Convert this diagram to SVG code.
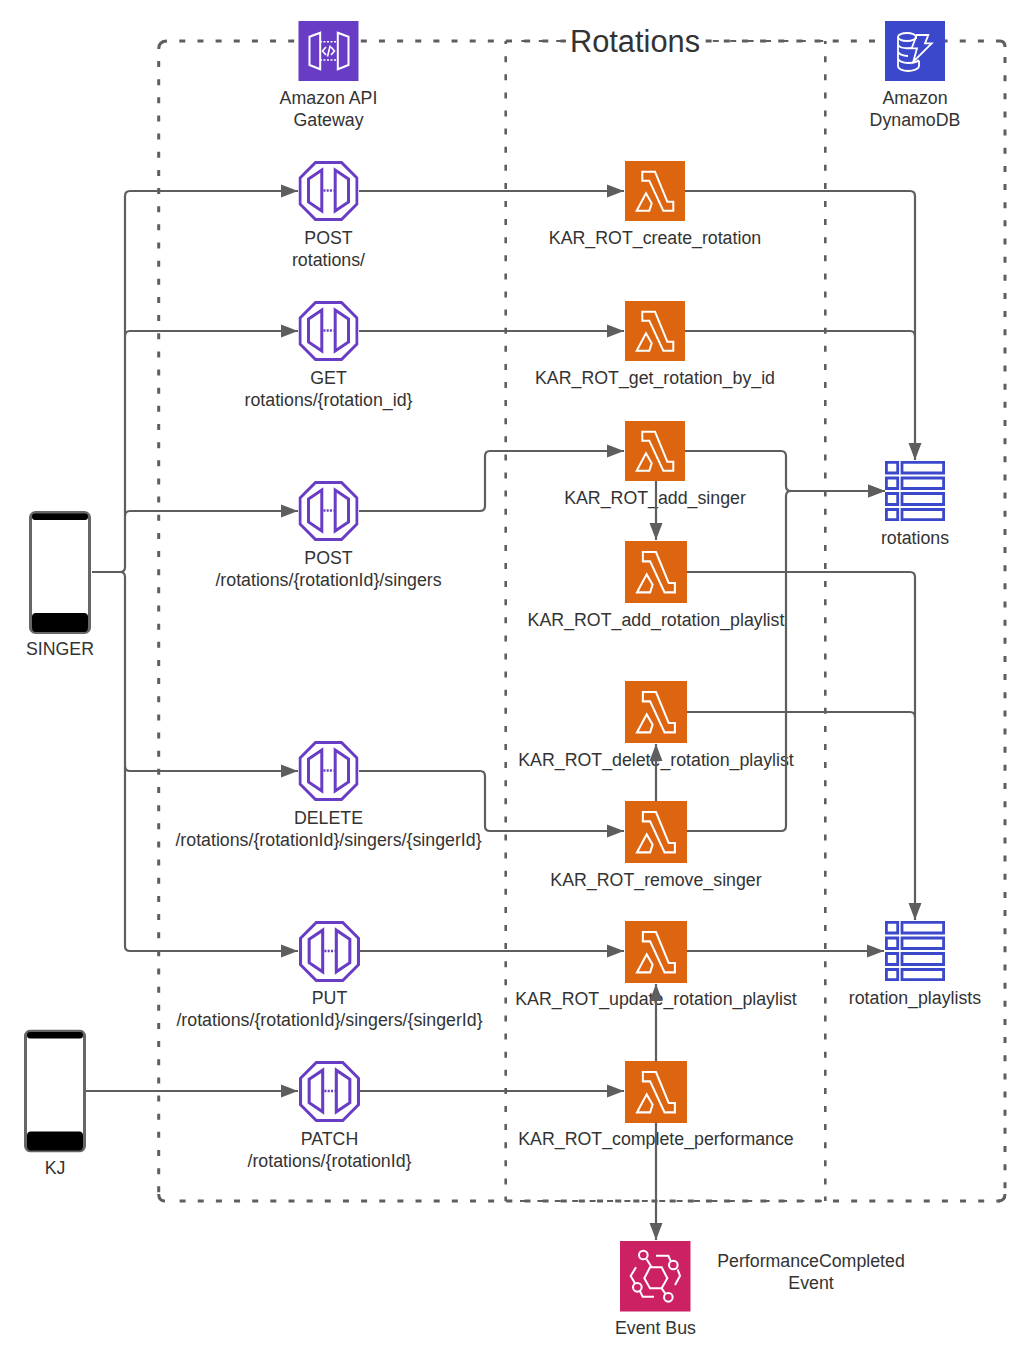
<svg xmlns="http://www.w3.org/2000/svg" width="1030" height="1371" viewBox="0 0 1030 1371">
<style>
text{font-family:"Liberation Sans",Arial,sans-serif;font-size:17.77px;fill:#333;text-anchor:middle}
.title{font-size:30.8px}
.frame{fill:none;stroke:#5e5e5e;stroke-width:3;stroke-dasharray:6 12.15}
.corner{fill:none;stroke:#5e5e5e;stroke-width:3}
.inner{fill:none;stroke:#5e5e5e;stroke-width:2.6;stroke-dasharray:6 12.1;stroke-dashoffset:1.5}
.innerh{fill:none;stroke:#5e5e5e;stroke-width:2;stroke-dasharray:6 11.4}
.c{fill:none;stroke:#5e5e5e;stroke-width:2.2;marker-end:url(#arrow)}
.n{fill:none;stroke:#5e5e5e;stroke-width:2.2}
.w{fill:none;stroke:#fff;stroke-width:2;stroke-linejoin:miter}
.p{fill:none;stroke:#693cc5;stroke-width:3}
.t{fill:#fff;stroke:#3b48cc;stroke-width:2.8}
</style>
<defs>
<marker id="arrow" markerUnits="userSpaceOnUse" markerWidth="18" markerHeight="14" refX="17" refY="7" orient="auto"><path d="M0 0.5L17 7L0 13.500z" fill="#5e5e5e"/></marker>
<symbol id="lambda" viewBox="0 0 60 60">
<rect width="60" height="60" fill="#dd6510"/>
<path class="w" d="M17.300 10.700H30L42.300 40.700H48.300V49.700H38.300L24.300 19.700H17.300zM11.700 49.700L21 32.300L26.700 42.300L24.300 49.700z"/>
</symbol>
<symbol id="api" viewBox="0 0 60 60">
<path class="p" d="M17 1.500H43L58.500 17V43L43 58.500H17L1.500 43V17z"/>
<path class="p" d="M10 18L23.300 9V50L10 41zM50 18L36.700 9V50L50 41z"/>
<path d="M25 29.500H35" fill="none" stroke="#693cc5" stroke-width="2.600" stroke-dasharray="2 1.200"/>
</symbol>
<symbol id="table" viewBox="0 0 60 60">
<path class="t" d="M1.400 1.400H12.700V12H1.400zM17 1.400H58.600V12H17zM1.400 17H12.700V27.500H1.400zM17 17H58.600V27.500H17zM1.400 32.500H12.700V43.500H1.400zM17 32.500H58.600V43.500H17zM1.400 48.500H12.700V58.600H1.400zM17 48.500H58.600V58.600H17z"/>
</symbol>
<symbol id="phone" viewBox="0 0 62 123">
<rect x="1.500" y="1.500" width="59" height="120" rx="5" fill="#fff" stroke="#666" stroke-width="3"/>
<rect x="3" y="2.500" width="56" height="6.500" rx="3" fill="#000"/>
<rect x="3" y="102" width="56" height="19" rx="4" fill="#000"/>
</symbol>
</defs>
<rect width="1030" height="1371" fill="#fff"/>
<g id="frames">
<path class="frame" d="M179.300 41H1000"/>
<path class="frame" d="M158.700 61V1196"/>
<path class="frame" d="M179.600 1201H1000"/>
<path class="frame" d="M1005 57V1196"/>
<path class="corner" d="M158.700 49Q158.700 41 167 41M1000 41Q1005 41 1005 47M1005 1194Q1005 1201 998 1201M158.700 1194Q158.700 1201 165 1201"/>
<path class="inner" d="M505.700 1201V41"/>
<path class="inner" d="M825.300 1201V41"/>
<path class="innerh" d="M505.700 41H825.300" stroke-dashoffset="1.700"/>
<path class="innerh" d="M505.700 1201H825.300" stroke-dashoffset="3.100"/>
</g>
<g id="title">
<rect x="566" y="22" width="139" height="38" fill="#fff"/>
<text class="title" x="635" y="51.500">Rotations</text>
</g>
<g id="gateway">
<rect x="298.500" y="21" width="60" height="60" fill="#693cc5"/>
<path class="w" d="M309.500 36.700L320.200 32.700V69.300L309.500 65zM348.500 36.700L337.800 32.700V69.300L348.500 65z"/>
<path d="M320 41.700H338M320 60H338" fill="none" stroke="#fff" stroke-width="1.500" stroke-dasharray="2 1.500"/>
<path d="M326 47L322.500 51L326 55M331 47L334.500 51L331 55M330.200 45.500L327.500 56.500" fill="none" stroke="#fff" stroke-width="1.600"/>
<text x="328.500" y="104">Amazon API</text><text x="328.500" y="126">Gateway</text>
</g>
<g id="dynamodb">
<rect x="885" y="21" width="60" height="60" fill="#3b48cc"/>
<g fill="none" stroke="#fff" stroke-width="1.800">
<ellipse cx="907" cy="37" rx="9" ry="4"/>
<path d="M898 37V66C898 69 903 71 908 71C913 71 919 69 919 66V61M898 44C898 47 903 49 911 48M898 51C898 54 903 56 908 56M898 58C898 61 903 63 908 63C913 63 917 62 919 60M916 37V39"/>
<path d="M916.700 35H928.300L925 43.300H931.700L913.300 61.700L917 48.300H911.700z"/>
</g>
<text x="915" y="104">Amazon</text><text x="915" y="126">DynamoDB</text>
</g>
<g id="post-rotations"><use href="#api" x="298.500" y="161" width="60" height="60"/><text x="328.500" y="244">POST</text><text x="328.500" y="266">rotations/</text></g>
<g id="get-rotation"><use href="#api" x="298.500" y="301" width="60" height="60"/><text x="328.500" y="384">GET</text><text x="328.500" y="406">rotations/{rotation_id}</text></g>
<g id="post-singers"><use href="#api" x="298.500" y="481" width="60" height="60"/><text x="328.500" y="564">POST</text><text x="328.500" y="586">/rotations/{rotationId}/singers</text></g>
<g id="delete-singer"><use href="#api" x="298.500" y="741" width="60" height="60"/><text x="328.500" y="824">DELETE</text><text x="328.500" y="846">/rotations/{rotationId}/singers/{singerId}</text></g>
<g id="put-singer"><use href="#api" x="299" y="921" width="61" height="61"/><text x="329.500" y="1004">PUT</text><text x="329.500" y="1026">/rotations/{rotationId}/singers/{singerId}</text></g>
<g id="patch-rotation"><use href="#api" x="299" y="1061" width="61" height="61"/><text x="329.500" y="1145">PATCH</text><text x="329.500" y="1167">/rotations/{rotationId}</text></g>
<g id="create-rotation"><use href="#lambda" x="625" y="161" width="60" height="60"/><text x="655" y="244">KAR_ROT_create_rotation</text></g>
<g id="get-by-id"><use href="#lambda" x="625" y="301" width="60" height="60"/><text x="655" y="384">KAR_ROT_get_rotation_by_id</text></g>
<g id="add-singer"><use href="#lambda" x="625" y="421" width="60" height="60"/><text x="655" y="504">KAR_ROT_add_singer</text></g>
<g id="add-playlist"><use href="#lambda" x="625" y="541" width="62" height="62"/><text x="656" y="625.500">KAR_ROT_add_rotation_playlist</text></g>
<g id="delete-playlist"><use href="#lambda" x="625" y="681" width="62" height="62"/><text x="656" y="765.500">KAR_ROT_delete_rotation_playlist</text></g>
<g id="remove-singer"><use href="#lambda" x="625" y="801" width="62" height="62"/><text x="656" y="885.500">KAR_ROT_remove_singer</text></g>
<g id="update-playlist"><use href="#lambda" x="625" y="921" width="62" height="62"/><text x="656" y="1005">KAR_ROT_update_rotation_playlist</text></g>
<g id="complete-performance"><use href="#lambda" x="625" y="1061" width="62" height="62"/><text x="656" y="1145">KAR_ROT_complete_performance</text></g>
<g id="rotations"><use href="#table" x="885" y="461" width="60" height="60"/><text x="915" y="544">rotations</text></g>
<g id="rotation-playlists"><use href="#table" x="885" y="921" width="60" height="60"/><text x="915" y="1004">rotation_playlists</text></g>
<g id="singer"><use href="#phone" x="29" y="511" width="62" height="123"/><text x="60" y="655">SINGER</text></g>
<g id="kj"><use href="#phone" x="24" y="1029.500" width="62" height="123"/><text x="55" y="1174">KJ</text></g>
<g id="event-bus">
<rect x="620" y="1241" width="70.500" height="70.500" fill="#cc2264"/>
<g transform="translate(600 1170) scale(.3333)" fill="none" stroke="#fff" stroke-width="6">
<path d="M133 325L150 292H185L202 325L185 355H150z"/>
<circle cx="130" cy="255" r="13"/><circle cx="220" cy="285" r="13"/><circle cx="112" cy="352" r="13"/><circle cx="205" cy="382" r="13"/>
<path d="M140 268L155 292M185 355L196 371M168 257H205L212 273M233 298L240 318L225 345M108 292L92 318L105 340M120 364L128 380H162"/>
</g>
<text x="655.500" y="1334">Event Bus</text>
</g>
<g id="event-label"><text x="811" y="1267">PerformanceCompleted</text><text x="811" y="1289">Event</text></g>
<g id="connectors">
<path class="c" d="M92 572H120Q125 572 125 567V196Q125 191 130 191H298"/>
<path class="c" d="M125 336Q125 331 130 331H298"/>
<path class="c" d="M125 516Q125 511 130 511H298"/>
<path class="c" d="M92 572H120Q125 572 125 577V766Q125 771 130 771H298"/>
<path class="c" d="M125 766V946Q125 951 130 951H298"/>
<path class="c" d="M359 191H624"/>
<path class="c" d="M359 331H624"/>
<path class="c" d="M359 511H480Q485 511 485 506V456Q485 451 490 451H624"/>
<path class="c" d="M359 771H480Q485 771 485 776V826Q485 831 490 831H624"/>
<path class="c" d="M360 951H624"/>
<path class="c" d="M86 1091H298"/>
<path class="c" d="M360 1091H624"/>
<path class="c" d="M685 191H910Q915 191 915 196V460"/>
<path class="n" d="M685 331H910Q915 331 915 336"/>
<path class="c" d="M685 451H781Q786 451 786 456V486Q786 491 791 491H885"/>
<path class="c" d="M687 831H781Q786 831 786 826V496Q786 491 791 491H885"/>
<path class="c" d="M656 481V540"/>
<path class="c" d="M687 572H910Q915 572 915 577V920"/>
<path class="n" d="M687 712H910Q915 712 915 717"/>
<path class="c" d="M656 801V744"/>
<path class="c" d="M687 951H884"/>
<path class="c" d="M656 1061V984"/>
<path class="c" d="M656 1123V1240"/>
</g>
</svg>
